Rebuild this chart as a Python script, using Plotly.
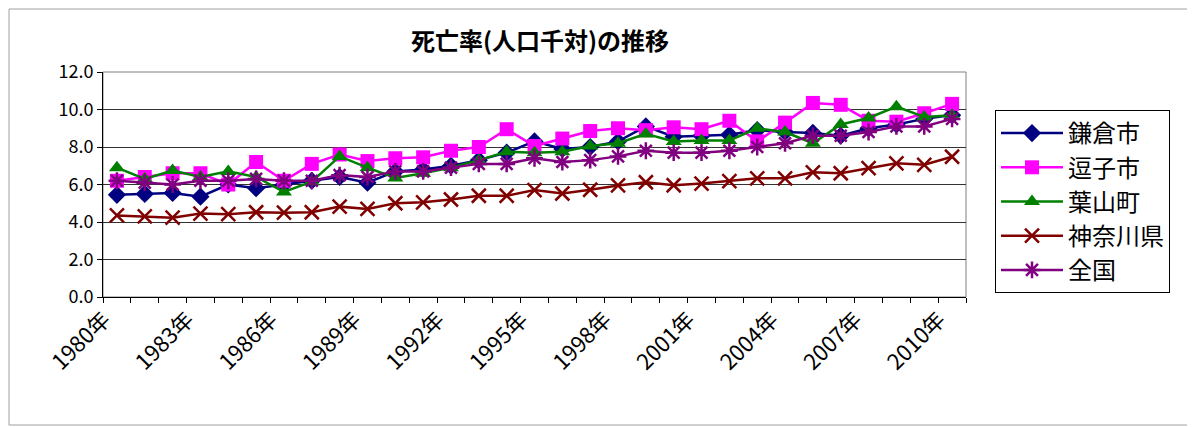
import plotly.graph_objects as go

years = list(range(1980, 2011))
tick_years = list(range(1980, 2011, 3))
tick_labels = [f"{y}年" for y in tick_years]

kamakura = [5.45, 5.5, 5.55, 5.35, 6.0, 5.8, 6.0, 6.2, 6.4, 6.1, 6.7, 6.8, 7.0, 7.3, 7.7, 8.3,
            7.9, 8.0, 8.3, 9.1, 8.55, 8.6, 8.65, 8.9, 8.8, 8.75, 8.6, 9.0, 9.2, 9.5, 9.7]
zushi = [6.2, 6.4, 6.6, 6.6, 6.0, 7.2, 6.2, 7.1, 7.6, 7.25, 7.4, 7.45, 7.8, 8.0, 8.95, 8.05,
         8.45, 8.85, 9.0, 8.9, 9.05, 8.95, 9.4, 8.3, 9.3, 10.35, 10.25, 9.4, 9.35, 9.8, 10.3]
hayama = [6.9, 6.3, 6.75, 6.4, 6.7, 6.4, 5.6, 6.15, 7.5, 6.9, 6.35, 6.6, 6.9, 7.3, 7.75, 7.7,
          7.75, 8.05, 8.2, 8.7, 8.3, 8.35, 8.35, 9.0, 8.8, 8.2, 9.2, 9.55, 10.15, 9.6, 9.7]
kanagawa = [4.35, 4.3, 4.23, 4.45, 4.42, 4.52, 4.5, 4.52, 4.82, 4.7, 5.0, 5.05, 5.2, 5.4, 5.4, 5.7,
            5.52, 5.72, 5.95, 6.12, 5.96, 6.05, 6.18, 6.33, 6.33, 6.65, 6.6, 6.87, 7.13, 7.05, 7.48]
zenkoku = [6.2, 6.1, 6.0, 6.2, 6.2, 6.3, 6.2, 6.2, 6.5, 6.4, 6.7, 6.7, 6.9, 7.1, 7.1, 7.4,
           7.2, 7.3, 7.5, 7.8, 7.7, 7.7, 7.8, 8.0, 8.2, 8.6, 8.6, 8.8, 9.1, 9.1, 9.5]

series = [
    ("鎌倉市", kamakura, "#000080", "diamond"),
    ("逗子市", zushi, "#FF00FF", "square"),
    ("葉山町", hayama, "#008000", "triangle-up"),
    ("神奈川県", kanagawa, "#800000", "x-thin"),
    ("全国", zenkoku, "#800080", "asterisk"),
]

FONT = "Noto Sans CJK JP, Liberation Sans, Arial, sans-serif"

# The page body has an 8px default margin, so the figure is sized to fit the window.
OFF = 8
W, H = 1195 - OFF, 427 - OFF
PL, PT, PR, PB = 103, 72, 966, 297  # plot area in window pixels
PW, PH = PR - PL, PB - PT


def px(x):
    return (x - PL) / PW


def py(y):
    return (PB - y) / PH


fig = go.Figure()
for name, vals, color, sym in series:
    thin = sym in ("x-thin", "asterisk")
    fig.add_trace(go.Scatter(
        x=years, y=vals, name=name, mode="lines+markers", legendgroup=name,
        line=dict(color=color, width=2.5),
        marker=dict(symbol=sym, size=14, color=color,
                    line=dict(color=color, width=2.5 if thin else 0)),
    ))

fig.update_layout(
    width=W, height=H,
    paper_bgcolor="white", plot_bgcolor="white",
    margin=dict(l=PL - OFF, r=1195 - PR, t=PT - OFF, b=427 - PB, autoexpand=False),
    font=dict(family=FONT, color="black"),
    title=dict(text="<b>死亡率(人口千対)の推移</b>", x=(540 - OFF) / W, xanchor="center",
               y=1 - (42 - OFF) / H, yanchor="middle",
               font=dict(size=24, family=FONT, color="black")),
    showlegend=True,
    legend=dict(x=px(995), y=py(110), xanchor="left", yanchor="top",
                bordercolor="black", borderwidth=1, bgcolor="white",
                font=dict(size=24, family=FONT), tracegroupgap=0,
                itemwidth=62),
    xaxis=dict(
        range=[1979.5, 2010.5], tickmode="array", tickvals=tick_years, ticktext=tick_labels,
        tickangle=-45, ticks="", showgrid=False, zeroline=False,
        showline=True, linecolor="black", linewidth=1,
        tickfont=dict(size=22, family=FONT), ticklabelshift=-13,
        minor=dict(tickmode="linear", tick0=1979.5, dtick=1, ticks="outside",
                   ticklen=5, tickcolor="black", showgrid=False),
    ),
    yaxis=dict(
        range=[0, 12], dtick=2, tickformat=".1f", ticks="outside", ticklen=5,
        tickcolor="black", showgrid=True, gridcolor="#333333", gridwidth=1,
        zeroline=False, showline=True, linecolor="black", linewidth=1,
        tickfont=dict(size=18, family=FONT),
    ),
    shapes=[
        dict(type="rect", xref="paper", yref="paper", x0=0, x1=1, y0=0, y1=1,
             line=dict(color="#808080", width=1), layer="below"),
        dict(type="rect", xref="paper", yref="paper",
             x0=px(9), x1=px(1193), y0=py(425), y1=py(9),
             line=dict(color="#A0A0A0", width=1)),
    ],
)

fig.write_html("out.html")
